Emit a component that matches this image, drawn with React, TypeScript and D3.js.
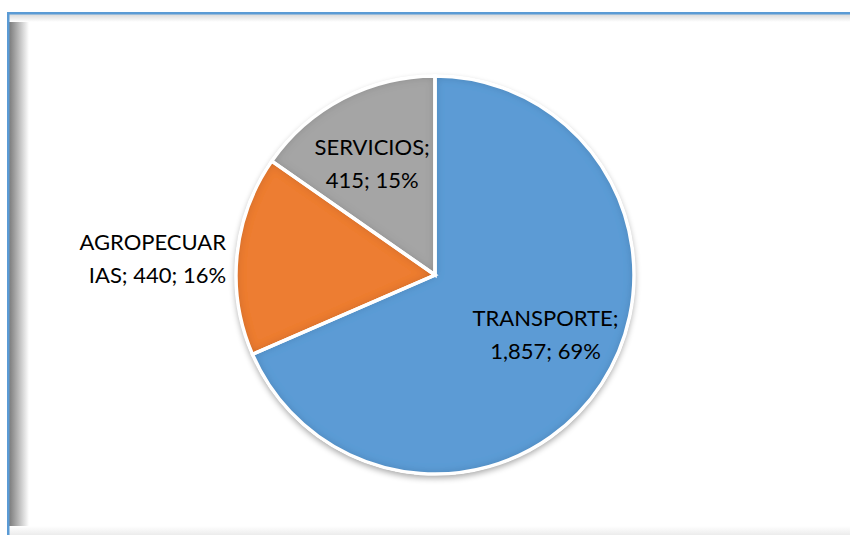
import React from "react";
import * as d3 from "d3";

const categories = ["TRANSPORTE", "AGROPECUARIAS", "SERVICIOS"];
const values = [1857, 440, 415];
const percents = ["69%", "16%", "15%"];
const valueLabels = ["1,857", "440", "415"];
const colors = ["#5B9BD5", "#ED7D31", "#A5A5A5"];

const W = 850;
const H = 535;
const cx = 435;
const cy = 275;
const R = 199;

export default function App() {
  const pie = d3.pie<number>().sort(null).value((d) => d)(values);
  const arc = d3.arc<d3.PieArcDatum<number>>().innerRadius(0).outerRadius(R);
  const labelArc = d3.arc<d3.PieArcDatum<number>>().innerRadius(125).outerRadius(125);

  const font = "Lato, 'Open Sans', sans-serif";
  const fs = 22;
  const lh = 33;

  const labelLines = [
    [`${categories[0]};`, `${valueLabels[0]}; ${percents[0]}`],
    ["AGROPECUAR", `IAS; ${valueLabels[1]}; ${percents[1]}`],
    [`${categories[2]};`, `${valueLabels[2]}; ${percents[2]}`],
  ];
  const nudges: [number, number][] = [
    [6, -8],
    [0, -7],
    [-5, 0],
  ];

  return (
    <svg
      width={W}
      height={H}
      style={{ position: "absolute", left: 0, top: 0, background: "#fff" }}
    >
      <defs>
        <linearGradient id="leftShadow" x1="0" x2="1" y1="0" y2="0">
          <stop offset="0" stopColor="#7a7a7a" />
          <stop offset="0.35" stopColor="#a8a8a8" />
          <stop offset="1" stopColor="#ffffff" />
        </linearGradient>
        <linearGradient id="topShadow" x1="0" x2="0" y1="0" y2="1">
          <stop offset="0" stopColor="#d8d8d8" />
          <stop offset="1" stopColor="#ffffff" />
        </linearGradient>
        <linearGradient id="bottomShadow" x1="0" x2="0" y1="0" y2="1">
          <stop offset="0" stopColor="#ffffff" />
          <stop offset="1" stopColor="#ececec" />
        </linearGradient>
        <filter id="dropShadow" x="-20%" y="-20%" width="140%" height="140%">
          <feGaussianBlur in="SourceAlpha" stdDeviation="3" />
          <feOffset dx="0" dy="3" result="blur" />
          <feComponentTransfer>
            <feFuncA type="linear" slope="0.35" />
          </feComponentTransfer>
          <feMerge>
            <feMergeNode />
            <feMergeNode in="SourceGraphic" />
          </feMerge>
        </filter>
        <filter id="innerShadow" x="-10%" y="-10%" width="120%" height="120%">
          <feComponentTransfer in="SourceAlpha" result="inv">
            <feFuncA type="table" tableValues="1 0" />
          </feComponentTransfer>
          <feGaussianBlur in="inv" stdDeviation="5" result="blurInv" />
          <feFlood floodColor="#000" floodOpacity="0.4" />
          <feComposite in2="blurInv" operator="in" result="shadow" />
          <feComposite in="shadow" in2="SourceAlpha" operator="in" result="inner" />
          <feMerge>
            <feMergeNode in="SourceGraphic" />
            <feMergeNode in="inner" />
          </feMerge>
        </filter>
      </defs>

      {/* frame */}
      <rect x={9} y={14} width={20} height={H - 14} fill="url(#leftShadow)" />
      <rect x={9} y={14} width={W - 9} height={8} fill="url(#topShadow)" />
      <rect x={9} y={526} width={W - 9} height={9} fill="url(#bottomShadow)" />
      <rect x={7} y={12} width={W - 7} height={2.5} fill="#5B9BD5" />
      <rect x={7} y={12} width={2.5} height={H - 12} fill="#5B9BD5" />

      <g transform={`translate(${cx},${cy})`}>
        <g filter="url(#dropShadow)">
          <circle r={R + 1} fill="#fff" />
        </g>
        {pie.map((d, i) => (
          <path
            key={i}
            d={arc(d) || ""}
            fill={colors[i]}
            filter="url(#innerShadow)"
          />
        ))}
        {pie.map((d, i) => (
          <path
            key={"s" + i}
            d={arc(d) || ""}
            fill="none"
            stroke="#fff"
            strokeWidth={3.5}
            strokeLinejoin="miter"
          />
        ))}
        {pie.map((d, i) => {
          let [x, y] = labelArc.centroid(d);
          let anchor = "middle";
          if (i === 1) {
            const a = (d.startAngle + d.endAngle) / 2;
            x = Math.sin(a) * 210;
            y = -Math.cos(a) * 210 + 12;
            anchor = "end";
          }
          x += nudges[i][0];
          y += nudges[i][1];
          return (
            <text
              key={"t" + i}
              x={x}
              y={y - lh / 2 + 7}
              textAnchor={anchor}
              fontFamily={font}
              fontSize={fs}
              fill="#000"
            >
              {labelLines[i].map((line, j) => (
                <tspan key={j} x={x} dy={j === 0 ? 0 : lh}>
                  {line}
                </tspan>
              ))}
            </text>
          );
        })}
      </g>
    </svg>
  );
}
